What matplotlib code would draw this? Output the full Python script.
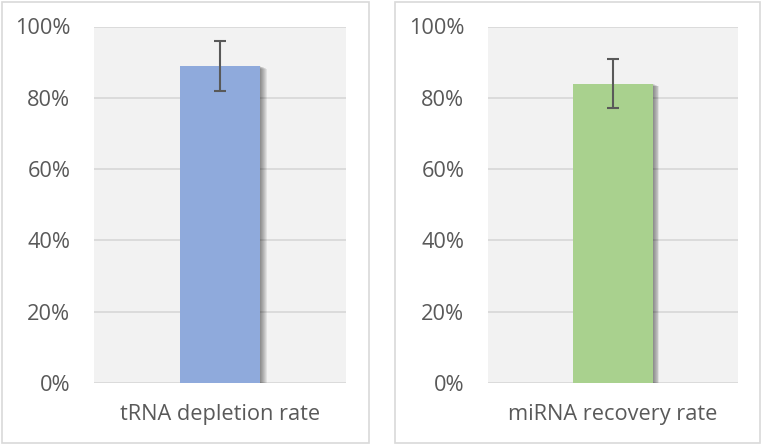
import matplotlib
matplotlib.use("Agg")
import matplotlib.pyplot as plt
import matplotlib.transforms as mtransforms
from matplotlib.patches import Rectangle
from matplotlib.ticker import PercentFormatter

# values
labels = ["tRNA depletion rate", "miRNA recovery rate"]
rates = [0.89, 0.84]
errors = [0.07, 0.07]
bar_colors = ["#8FAADC", "#A9D18E"]
yticks = [0, 0.2, 0.4, 0.6, 0.8, 1.0]

plt.rcParams['font.family'] = ['Open Sans', 'DejaVu Sans']
text_gray = "#595959"

W, H = 762, 445
fig = plt.figure(figsize=(W / 100, H / 100), dpi=100)
fig.patch.set_facecolor("white")

# panel frames (pixels) and plot areas (pixels)
frames = [(2, 2, 367, 441), (395, 2, 365, 441)]
areas = [(94, 26.5, 252, 356.5), (488, 26.5, 250, 356.5)]

for i in range(2):
    fx, fy, fw, fh = frames[i]
    fig.patches.append(Rectangle((fx / W, 1 - (fy + fh) / H), fw / W, fh / H,
                                 transform=fig.transFigure, fill=False,
                                 edgecolor="#D9D9D9", linewidth=1.2))
    ax_x, ax_y, ax_w, ax_h = areas[i]
    ax = fig.add_axes([ax_x / W, 1 - (ax_y + ax_h) / H, ax_w / W, ax_h / H])
    ax.set_facecolor("#F2F2F2")

    # soft shadow on the right side of the bar
    for k in range(1, 8):
        off = mtransforms.offset_copy(ax.transData, fig=fig, x=k * 0.9, y=-k * 0.4, units='dots')
        ax.bar([0], [rates[i]], width=0.32, color="black", alpha=0.07,
               transform=off, zorder=2)
    ax.bar([0], [rates[i]], width=0.32, color=bar_colors[i], zorder=3)
    ax.errorbar([0], [rates[i]], yerr=[errors[i]], fmt='none', ecolor="#595959",
                elinewidth=1.5, capsize=4.5, capthick=1.5, zorder=4)

    ax.set_xlim(-0.5, 0.5)
    ax.set_ylim(0, 1.0)
    ax.set_yticks(yticks)
    ax.yaxis.set_major_formatter(PercentFormatter(1.0, decimals=0))
    ax.set_xticks([0])
    ax.set_xticklabels([labels[i]])
    ax.grid(axis='y', color="#D9D9D9", linewidth=1.3, zorder=1)
    ax.set_axisbelow(True)
    for s in ax.spines.values():
        s.set_visible(False)
    ax.tick_params(axis='both', length=0, colors=text_gray, labelsize=15.7)
    ax.tick_params(axis='y', pad=17)
    ax.tick_params(axis='x', pad=15)

fig.savefig("out.png", dpi=100, facecolor="white")
